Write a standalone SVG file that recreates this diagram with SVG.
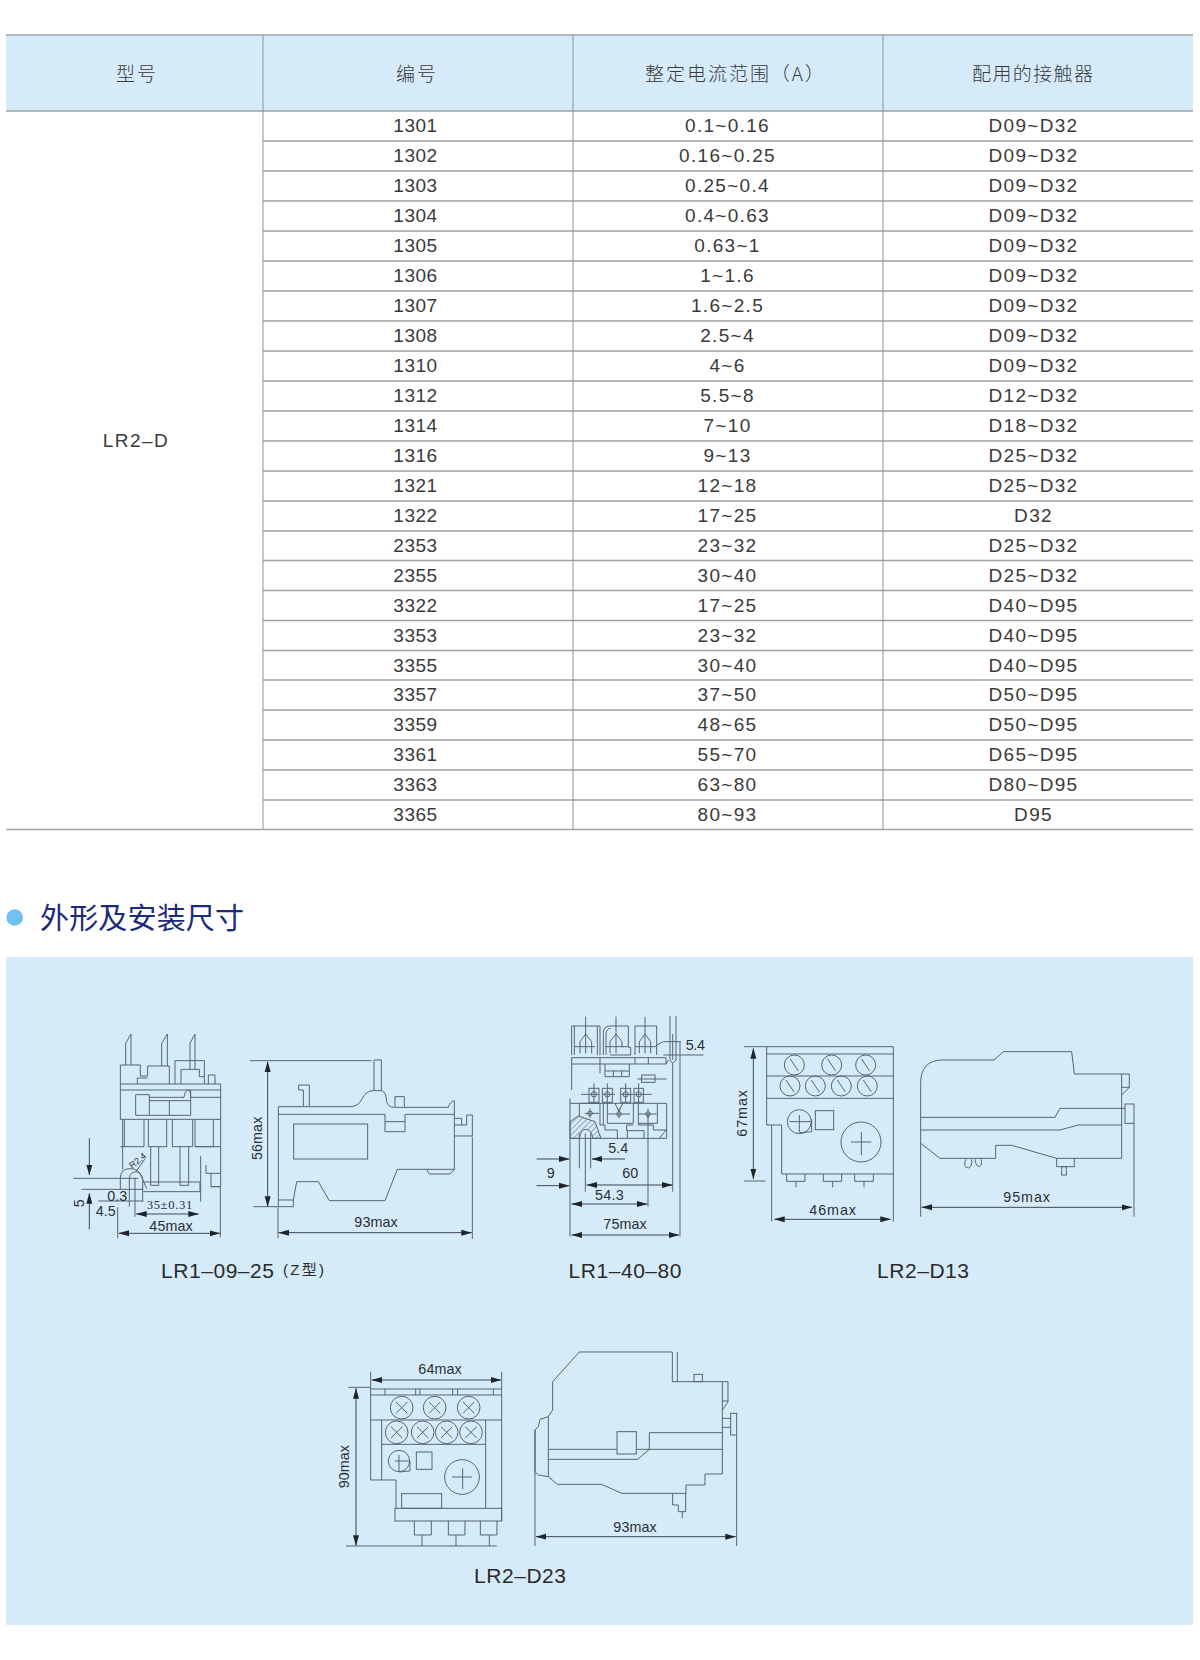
<svg xmlns="http://www.w3.org/2000/svg" width="1200" height="1660" viewBox="0 0 1200 1660">
<defs>
<style>
.t{font-family:"Liberation Sans",Arial,sans-serif;font-size:19px;fill:#3a3a3a;text-anchor:middle;letter-spacing:1.3px}
.n{letter-spacing:.5px}
.h{font-family:"Noto Sans CJK SC",sans-serif;font-size:19px;fill:#3a3a3a;font-weight:300}
.hl{stroke:#9aa3a8;stroke-width:1.6;fill:none}
.vl{stroke:#8a949a;stroke-width:1;fill:none}
.d path,.d circle,.d rect{fill:none;stroke:#55646f;stroke-width:3;stroke-linejoin:miter}
.d .a{stroke:#3a4650;marker-start:url(#ar);marker-end:url(#ar)}
.d .e{stroke:#3a4650;marker-end:url(#ar)}
.d text{font-family:"Liberation Sans",Arial,sans-serif;font-size:43px;fill:#2a2f33}
.cap{font-family:"Liberation Sans",Arial,sans-serif;font-size:21px;fill:#2a2a2a}
</style>
<marker id="ar" markerUnits="userSpaceOnUse" markerWidth="34" markerHeight="22" refX="31" refY="11" orient="auto-start-reverse"><path d="M0 2L32 11L0 20z" fill="#1e2428"/></marker>
<pattern id="hatch" width="12" height="12" patternUnits="userSpaceOnUse" patternTransform="rotate(-45)"><path d="M0 0H12" stroke="#55646f" stroke-width="3"/></pattern>
</defs>
<rect width="1200" height="1660" fill="#fff"/>

<g id="table">
<rect x="6" y="35" width="1187" height="76" fill="#d6ebfa"/>
<path class="hl" d="M6 35H1193M6 111H1193M263 141H1193M263 171H1193M263 201H1193M263 231H1193M263 261H1193M263 291H1193M263 321H1193M263 351H1193M263 381H1193M263 411H1193M263 441H1193M263 471H1193M263 501H1193M263 531H1193M263 560.5H1193M263 590.5H1193M263 620.5H1193M263 650.5H1193M263 680H1193M263 710H1193M263 740H1193M263 770H1193M263 800H1193M6 829.5H1193"/>
<path class="vl" d="M263 35V829M573 35V829M883 35V829"/>
<text class="h" x="116" y="81" textLength="40">型号</text>
<text class="h" x="396" y="81" textLength="40">编号</text>
<text class="h" x="645" y="81" textLength="179">整定电流范围（A）</text>
<text class="h" x="972" y="81" textLength="121">配用的接触器</text>
<text class="t" x="136" y="447" style="letter-spacing:1.5px">LR2–D</text>
<text class="t n" x="415.5" y="132">1301</text><text class="t" x="727.5" y="132">0.1~0.16</text><text class="t" x="1033.5" y="132">D09~D32</text>
<text class="t n" x="415.5" y="162">1302</text><text class="t" x="727.5" y="162">0.16~0.25</text><text class="t" x="1033.5" y="162">D09~D32</text>
<text class="t n" x="415.5" y="192">1303</text><text class="t" x="727.5" y="192">0.25~0.4</text><text class="t" x="1033.5" y="192">D09~D32</text>
<text class="t n" x="415.5" y="222">1304</text><text class="t" x="727.5" y="222">0.4~0.63</text><text class="t" x="1033.5" y="222">D09~D32</text>
<text class="t n" x="415.5" y="252">1305</text><text class="t" x="727.5" y="252">0.63~1</text><text class="t" x="1033.5" y="252">D09~D32</text>
<text class="t n" x="415.5" y="282">1306</text><text class="t" x="727.5" y="282">1~1.6</text><text class="t" x="1033.5" y="282">D09~D32</text>
<text class="t n" x="415.5" y="312">1307</text><text class="t" x="727.5" y="312">1.6~2.5</text><text class="t" x="1033.5" y="312">D09~D32</text>
<text class="t n" x="415.5" y="342">1308</text><text class="t" x="727.5" y="342">2.5~4</text><text class="t" x="1033.5" y="342">D09~D32</text>
<text class="t n" x="415.5" y="372">1310</text><text class="t" x="727.5" y="372">4~6</text><text class="t" x="1033.5" y="372">D09~D32</text>
<text class="t n" x="415.5" y="402">1312</text><text class="t" x="727.5" y="402">5.5~8</text><text class="t" x="1033.5" y="402">D12~D32</text>
<text class="t n" x="415.5" y="431.7">1314</text><text class="t" x="727.5" y="431.7">7~10</text><text class="t" x="1033.5" y="431.7">D18~D32</text>
<text class="t n" x="415.5" y="461.7">1316</text><text class="t" x="727.5" y="461.7">9~13</text><text class="t" x="1033.5" y="461.7">D25~D32</text>
<text class="t n" x="415.5" y="491.6">1321</text><text class="t" x="727.5" y="491.6">12~18</text><text class="t" x="1033.5" y="491.6">D25~D32</text>
<text class="t n" x="415.5" y="521.6">1322</text><text class="t" x="727.5" y="521.6">17~25</text><text class="t" x="1033.5" y="521.6">D32</text>
<text class="t n" x="415.5" y="551.6">2353</text><text class="t" x="727.5" y="551.6">23~32</text><text class="t" x="1033.5" y="551.6">D25~D32</text>
<text class="t n" x="415.5" y="581.5">2355</text><text class="t" x="727.5" y="581.5">30~40</text><text class="t" x="1033.5" y="581.5">D25~D32</text>
<text class="t n" x="415.5" y="611.5">3322</text><text class="t" x="727.5" y="611.5">17~25</text><text class="t" x="1033.5" y="611.5">D40~D95</text>
<text class="t n" x="415.5" y="641.5">3353</text><text class="t" x="727.5" y="641.5">23~32</text><text class="t" x="1033.5" y="641.5">D40~D95</text>
<text class="t n" x="415.5" y="671.5">3355</text><text class="t" x="727.5" y="671.5">30~40</text><text class="t" x="1033.5" y="671.5">D40~D95</text>
<text class="t n" x="415.5" y="701.4">3357</text><text class="t" x="727.5" y="701.4">37~50</text><text class="t" x="1033.5" y="701.4">D50~D95</text>
<text class="t n" x="415.5" y="731.4">3359</text><text class="t" x="727.5" y="731.4">48~65</text><text class="t" x="1033.5" y="731.4">D50~D95</text>
<text class="t n" x="415.5" y="761.4">3361</text><text class="t" x="727.5" y="761.4">55~70</text><text class="t" x="1033.5" y="761.4">D65~D95</text>
<text class="t n" x="415.5" y="791.3">3363</text><text class="t" x="727.5" y="791.3">63~80</text><text class="t" x="1033.5" y="791.3">D80~D95</text>
<text class="t n" x="415.5" y="821.3">3365</text><text class="t" x="727.5" y="821.3">80~93</text><text class="t" x="1033.5" y="821.3">D95</text>
</g>

<g id="section-title">
<circle cx="14.7" cy="917.5" r="8.3" fill="#6fc0f3"/>
<text x="40" y="929" font-family="'Noto Sans CJK SC',sans-serif" font-size="29" fill="#1b2a7a" textLength="204">外形及安装尺寸</text>
</g>
<rect id="panel" x="6" y="957" width="1187" height="668" fill="#d6ebfa"/>

<g id="fig-lr1-09-25" class="d" transform="translate(60 1010) scale(.33333)">
<path d="M197 165V100L213 72V165M305 168V100L322 72V168M390 178V100L405 72V178"/>
<path d="M181 328V165H241V198H263V168H328V222M232 222V204H263M181 222H482V530H453V490M181 240H482M345 222V152H433V222M363 222V178H418V200H433M445 222V195H465V222"/>
<path d="M227 254H268V316H227ZM268 262H372Q375 240 385 240Q392 240 392 262H482M268 272H392M268 316H392M328 272V316M392 240V316"/>
<path d="M181 328H482M188 328V478M181 410H252M193 328V410M252 328V410M265 328V410H320V328M337 328V410H398V328M405 328V410H460V328M405 410H482M272 410V526H296V410M360 410V526H386V410"/>
<path d="M250 516H420V545H250M422 438V575M438 465V490H482M453 530H482"/>
<path d="M181 538V505Q181 476 210 476Q232 476 240 490L260 536M208 590V505Q210 486 228 485Q245 490 248 505V575M225 505V620M228 485L256 445"/>
<path class="e" d="M88 385V495"/><path class="e" d="M88 658V550"/>
<path d="M40 505H235M65 538H250M115 573H250M173 592V685M481 530V682"/>
<path class="a" d="M176 670H480"/><path class="a" d="M229 612H416"/>
<text x="268" y="664" textLength="130">45max</text>
<text x="142" y="572" textLength="60">0.3</text>
<text x="107" y="617" textLength="60">4.5</text>
<text transform="translate(71 592) rotate(-90)">5</text>
<text transform="translate(217 477) rotate(-40)" style="font-size:27px">R2.4</text>
<text x="260" y="598" textLength="137" style="font-family:'Liberation Serif',serif;font-size:38px">35±0.31</text>
<path d="M942 242V150H964V242M716 240V225H748V288M716 240H730V288M1005 290V260H1033V290"/>
<path d="M655 590V290H870Q895 290 905 268Q918 242 940 242H965Q978 245 980 275Q985 292 1000 292H1165Q1170 275 1183 272V380M655 313H975V365H1035V313H1183M975 335H1035M1183 345H1220V315H1237V378H1183M1185 325H1205V345"/>
<rect x="701" y="342" width="222" height="105"/>
<path d="M1183 380V478H1012L975 572H808L775 515H710L700 570V590H655M655 570H700M1100 478L1108 492H1170L1183 478"/>
<path d="M570 152H935M580 590H655M654 592V685M1237 380V687"/>
<path class="a" d="M623 155V590"/><path class="a" d="M656 668H1235"/>
<text transform="translate(606 450) rotate(-90)" textLength="130">56max</text>
<text x="883" y="652" textLength="130">93max</text>
</g>
<text id="cap-lr1-09-25" x="161" y="1278" class="cap" textLength="113">LR1–09–25</text>
<text id="cap-z" x="283" y="1275" font-family="'Liberation Sans','Noto Sans CJK SC',sans-serif" font-size="15" fill="#2a2a2a" textLength="41">(Z型)</text>

<g id="fig-lr1-40-80" class="d" transform="translate(520 1010) scale(.33333)">
<path d="M155 135V48H240V135M163 48V135M232 48V135M197 20V130M180 130V95L197 72L215 95V130M165 110H225"/>
<path d="M250 135V70Q250 48 270 48H325V112H332V135H270M258 135V72Q260 55 272 55M288 20V130M270 130V95L288 72L306 95V112M255 110H325"/>
<path d="M345 135V48H410V135M375 20V130M358 130V95L375 72L392 95V130M345 110H410M410 105L430 95H483"/>
<path d="M450 18V150L458 160V545M468 18V150L458 160M458 72V150M480 95V680M430 135H550"/>
<path d="M155 143H438V162H155M155 143V240M240 143V190M345 143V162M385 143V162M438 162L445 150M255 162V200H328V162M255 183H328M280 183V200M305 183V200"/>
<rect x="365" y="195" width="40" height="22"/><path d="M352 207H440"/>
<rect x="207" y="235" width="30" height="42"/><rect x="247" y="235" width="30" height="42"/><rect x="302" y="235" width="30" height="42"/><rect x="342" y="235" width="28" height="42"/>
<path d="M183 253H237M222 220V280M247 253H285M262 220V280M302 253H340M317 220V280M342 253H395M356 220V280"/>
<circle cx="222" cy="253" r="8"/><circle cx="262" cy="253" r="8"/><circle cx="317" cy="253" r="8"/><circle cx="356" cy="253" r="8"/>
<path d="M150 265V680M150 280H440V385H150"/>
<path d="M178 280V320M178 280H240V345H255V360H292V385M250 280V345M262 280V340H340V280M285 280L297 305L308 280M340 345H320V362H372V385M322 362V385M355 280V340H412V280M355 340V345H400V360H440M440 358L418 385"/>
<path d="M195 310H237M262 312H330M355 312H410M210 295V325M297 295V325M384 295V325"/>
<circle cx="210" cy="310" r="7"/><circle cx="297" cy="312" r="7"/><circle cx="384" cy="312" r="7"/>
<path d="M150 335L175 318L225 335L243 385H218Q215 358 196 358Q182 360 178 385H150Z" style="fill:url(#hatch)"/>
<path d="M178 370V475M212 370V475M196 370V545M384 310V590"/>
<path class="e" d="M50 447H148"/><path class="e" d="M50 527H148"/><path class="e" d="M315 447H216"/>
<path class="a" d="M200 525H457"/><path class="a" d="M155 582H382"/><path class="a" d="M155 675H477"/>
<text x="497" y="120" textLength="58">5.4</text>
<text x="80" y="503">9</text>
<text x="265" y="430" textLength="60">5.4</text>
<text x="307" y="505">60</text>
<text x="225" y="570" textLength="86">54.3</text>
<text x="250" y="658" textLength="130">75max</text>
</g>
<text id="cap-lr1-40-80" x="568.5" y="1278" class="cap" textLength="113">LR1–40–80</text>

<g id="fig-lr2-d13" class="d" transform="translate(520 1010) scale(.33333)">
<path d="M672 110H1120M740 110V345H755V635M1120 110V635M740 132H1120M740 198H1120M740 265H1120M755 345H785V492H1120"/>
<circle cx="823" cy="165" r="30"/><circle cx="935" cy="165" r="30"/><circle cx="1037" cy="165" r="30"/>
<circle cx="810" cy="228" r="30"/><circle cx="886" cy="228" r="30"/><circle cx="964" cy="228" r="30"/><circle cx="1042" cy="228" r="30"/>
<path d="M811 147L835 183M923 147L947 183M1025 147L1049 183M798 210L822 246M874 210L898 246M952 210L976 246M1030 210L1054 246"/>
<circle cx="838" cy="335" r="36"/><path d="M808 335H875M838 315V368M875 328V365L840 368"/>
<rect x="886" y="302" width="55" height="57"/>
<circle cx="1023" cy="396" r="60"/><path d="M993 396H1054M1024 366V436"/>
<path d="M800 492V514H855V492M828 514V532M910 492V514H965V492M938 514V532M1004 492V514H1060V492M1032 514V532M672 513H737"/>
<path class="a" d="M700 115V507"/><path class="a" d="M763 628H1112"/>
<text transform="translate(682 380) rotate(-90)" textLength="140">67max</text>
<text x="868" y="616" textLength="140">46max</text>
</g>

<g id="fig-lr2-d13-side" class="d" transform="translate(900 1030) scale(.33333)">
<path d="M62 560V160Q62 92 125 90H282L310 65H515L523 132H665V385H470L335 346H287V385H120L62 340"/>
<path d="M62 262H465L480 235H675M62 300H480L535 285H665M665 132H688V172L665 195M665 172H688"/>
<rect x="675" y="222" width="27" height="58"/>
<path d="M470 385V410H523V385M702 280V560"/><rect x="485" y="410" width="14" height="25"/>
<path d="M197 388Q188 412 205 414Q218 410 215 388M225 388Q228 410 238 410Q248 405 243 388"/>
<path class="a" d="M65 532H696"/>
<text x="310" y="515" textLength="140">95max</text>
</g>
<text id="cap-lr2-d13" x="877" y="1278" class="cap" textLength="92">LR2–D13</text>

<g id="fig-lr2-d23" class="d" transform="translate(320 1330) scale(.33333)">
<path d="M152 125V450H228V535M545 125V573M152 177H545M152 195H545M152 270H545M195 177V195M287 177V195M300 177V195M398 177V195M413 177V195M520 177V195M185 270V450M185 343H497M497 270V535"/>
<circle cx="245" cy="233" r="34"/><circle cx="344" cy="233" r="34"/><circle cx="446" cy="233" r="34"/>
<circle cx="230" cy="307" r="34"/><circle cx="308" cy="307" r="34"/><circle cx="380" cy="307" r="34"/><circle cx="453" cy="307" r="34"/>
<path d="M228 216L262 250M262 216L228 250M327 216L361 250M361 216L327 250M429 216L463 250M463 216L429 250M213 290L247 324M247 290L213 324M291 290L325 324M325 290L291 324M363 290L397 324M397 290L363 324M436 290L470 324M470 290L436 324"/>
<circle cx="237" cy="393" r="32"/><path d="M225 393H270M237 375V425M270 393V423L237 426"/>
<rect x="289" y="366" width="47" height="52"/>
<circle cx="426" cy="441" r="52"/><path d="M396 441H456M428 415V478"/>
<rect x="245" y="491" width="120" height="44"/><rect x="225" y="535" width="320" height="38"/>
<path d="M283 573V615H334V573M385 573V615H435V573M481 573V615H531V573M306 615V648M408 615V648M508 615V648M85 172H152M78 648H530"/>
<path class="a" d="M155 150H543"/><path class="a" d="M108 175V647"/>
<text x="295" y="132" textLength="130">64max</text>
<text transform="translate(87 475) rotate(-90)" textLength="130">90max</text>
<path d="M685 440V260L660 268L655 290L645 300V425L655 435L685 440L712 463H845L905 490H1098V465H1155V432H1207V155H1057V66H778L698 155V240L685 260M1072 66V155M1207 155H1224V215L1207 240M1207 213H1224"/>
<rect x="1122" y="133" width="25" height="22"/><rect x="1232" y="250" width="18" height="65"/>
<path d="M1207 265H1232M1207 292H1232M687 358H890M950 358H1207M687 388H953L988 358V308H1207"/>
<rect x="891" y="305" width="58" height="67"/>
<path d="M1058 490V525H1075V545H1097V490M1087 545V565M645 300V648M1250 315V648"/>
<path class="a" d="M648 620H1247"/>
<text x="880" y="605" textLength="130">93max</text>
</g>
<text id="cap-lr2-d23" x="474" y="1582.5" class="cap" textLength="92">LR2–D23</text>
</svg>
